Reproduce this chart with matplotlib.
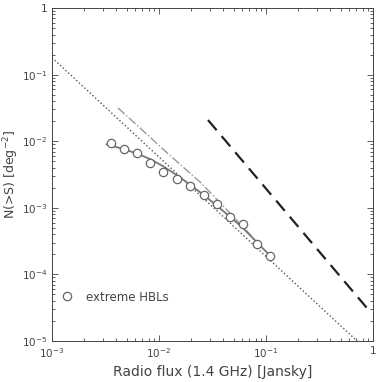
import numpy as np
import matplotlib
matplotlib.use('Agg')
import matplotlib.pyplot as plt

# extreme HBL counts
hbl_flux = [0.00356, 0.00471, 0.00622, 0.00824, 0.0109, 0.0147, 0.0195,
            0.0264, 0.0348, 0.0461, 0.061, 0.0824, 0.109]
hbl_n = [0.0094, 0.0076, 0.0066, 0.0047, 0.0035, 0.0027, 0.0021,
         0.00157, 0.00114, 0.00073, 0.00057, 0.000286, 0.000189]

# solid fit curve
fit_flux = [0.00324, 0.00464, 0.00619, 0.00824, 0.01096, 0.01462, 0.0195,
            0.0260, 0.0346, 0.0461, 0.0614, 0.0818, 0.1089]
fit_n = [0.00898, 0.00764, 0.00656, 0.0054, 0.0042, 0.0031, 0.00223,
         0.00157, 0.00108, 0.000735, 0.000491, 0.000306, 0.000192]

# dash-dot curve
dd_flux = [0.00414, 0.00664, 0.01268, 0.0242, 0.0461, 0.0824]
dd_n = [0.0315, 0.0158, 0.0061, 0.00244, 0.000835, 0.000306]

# dotted euclidean line
dot_flux = [0.001, 0.71]
dot_n = [0.18, 1.0e-5]

# dashed line
dash_flux = [0.0287, 0.897]
dash_n = [0.0208, 3.0e-5]

fig = plt.figure(figsize=(3.78, 3.82), dpi=100)
ax = fig.add_axes([0.1376, 0.1073, 0.8492, 0.8717])

ax.loglog(dot_flux, dot_n, ':', color='#555555', lw=1.0)
ax.loglog(dd_flux, dd_n, '-.', color='#999999', lw=1.0)
ax.loglog(fit_flux, fit_n, '-', color='#777777', lw=1.3)
ax.loglog(dash_flux, dash_n, '--', color='#222222', lw=1.6, dashes=(6, 3.5))
ax.loglog(hbl_flux, hbl_n, 'o', mfc='white', mec='#666666', ms=6, mew=0.9,
          label='extreme HBLs')

ax.set_xlim(1e-3, 1)
ax.set_ylim(1e-5, 1)
ax.set_xticks([1e-3, 1e-2, 1e-1, 1])
ax.set_xticklabels(['10$^{-3}$', '10$^{-2}$', '10$^{-1}$', '1'])
ax.set_yticks([1e-5, 1e-4, 1e-3, 1e-2, 1e-1, 1])
ax.set_yticklabels(['10$^{-5}$', '10$^{-4}$', '10$^{-3}$', '10$^{-2}$', '10$^{-1}$', '1'])
ax.tick_params(which='both', direction='in', top=True, right=True,
               labelsize=7.5, labelcolor='#444444', color='#444444', width=0.6)
ax.tick_params(which='major', length=4)
ax.tick_params(which='minor', length=2.5)
for s in ax.spines.values():
    s.set_linewidth(0.7)
    s.set_color('#444444')

ax.set_xlabel('Radio flux (1.4 GHz) [Jansky]', fontsize=10, color='#444444')
ax.set_ylabel('N(>S) [deg$^{-2}$]', fontsize=9, color='#444444')
ax.yaxis.set_label_coords(-0.097, 0.5)

ax.legend(loc='center left', bbox_to_anchor=(0.028, 0.132), frameon=False,
          fontsize=8.5, handlelength=1.0, handletextpad=1.1,
          borderpad=0, borderaxespad=0, labelcolor='#444444')

plt.savefig('out.png', dpi=100)
